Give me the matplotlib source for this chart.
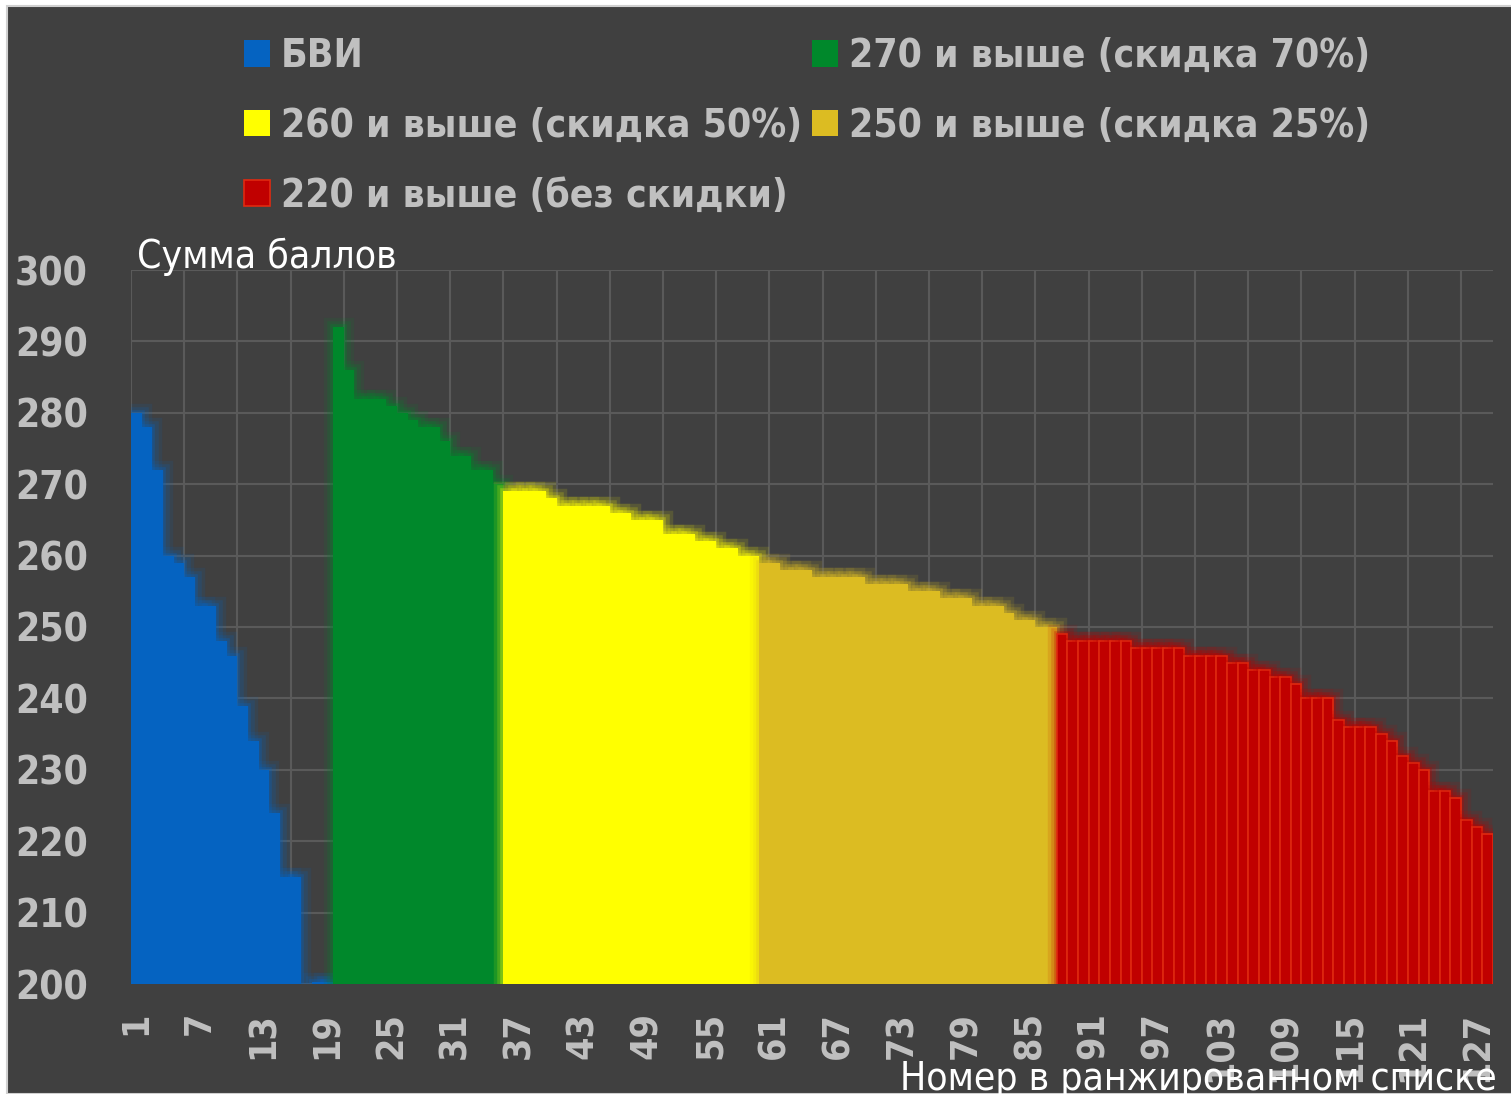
import matplotlib
matplotlib.use("Agg")
import matplotlib.pyplot as plt
import matplotlib.patheffects as pe
from matplotlib import font_manager
from matplotlib.patches import Rectangle
import numpy as np

# scores, one list per group, in rank order
bvi_scores = [280, 278, 272, 260, 259, 257, 253, 253, 248, 246, 239, 234, 230, 224, 215, 215,
              None, 200.3, 200.3]
green_scores = [292, 286, 282, 282, 282, 281, 280, 279, 278, 278, 276, 274, 274, 272, 272, 270]
yellow_scores = [269, 269, 269, 269, 268, 267, 267, 267, 267, 267, 266, 266, 265, 265, 265,
                 263, 263, 263, 262, 262, 261, 261, 260, 260]
gold_scores = [259, 259, 258, 258, 258, 257, 257, 257, 257, 257, 256, 256, 256, 256, 255, 255,
               255, 254, 254, 254, 253, 253, 253, 252, 251, 251, 250, 250]
red_scores = [249, 248, 248, 248, 248, 248, 248, 247, 247, 247, 247, 247, 246, 246, 246, 246,
              245, 245, 244, 244, 243, 243, 242, 240, 240, 240, 237, 236, 236, 236, 235, 234,
              232, 231, 230, 227, 227, 226, 223, 222, 221]

labels = ["БВИ", "270 и выше (скидка 70%)", "260 и выше (скидка 50%)",
          "250 и выше (скидка 25%)", "220 и выше (без скидки)"]
colors = ["#0563C1", "#00882B", "#FFFF00", "#DCBC22", "#C00000"]
groups = [bvi_scores, green_scores, yellow_scores, gold_scores, red_scores]

tick_pos = list(range(1, 128, 6))
yticks = list(range(200, 301, 10))

# look for a narrow face (the original uses Arial Narrow)
narrow = None
for f in font_manager.fontManager.ttflist:
    if "Liberation Sans Narrow" in f.name:
        narrow = f
        break
if narrow is None:
    for f in font_manager.fontManager.ttflist:
        if "Narrow" in f.name or "Condensed" in f.name or f.stretch in ("condensed", "semi-condensed"):
            narrow = f
            break
if narrow is not None:
    plt.rcParams["font.family"] = [narrow.name, "DejaVu Sans"]
    plt.rcParams["font.stretch"] = narrow.stretch
    fs = 33 if "Liberation" in narrow.name else 28
else:
    plt.rcParams["font.family"] = ["Liberation Sans", "DejaVu Sans"]
    fs = 28

bg = "#404040"
tick_col = "#C0C0C0"
grid_col = "#5A5A5A"

fig = plt.figure(figsize=(15.11, 10.94), dpi=100, facecolor="white")
fig.patches.append(Rectangle((7 / 1511, 0), 1, (1094 - 6) / 1094, transform=fig.transFigure,
                             facecolor=bg, edgecolor="#D0D0D0", linewidth=1.5, zorder=-10))

ax = fig.add_axes([131 / 1511, (1094 - 984) / 1094, (1493 - 131) / 1511, (984 - 270) / 1094])
ax.set_facecolor(bg)

handles = []
start = 1
for vals, col, lab in zip(groups, colors, labels):
    x = np.arange(start, start + len(vals))
    v = np.array([np.nan if s is None else s for s in vals], dtype=float)
    glow = [pe.Stroke(linewidth=14, foreground=col, alpha=0.12),
            pe.Stroke(linewidth=9, foreground=col, alpha=0.18),
            pe.Stroke(linewidth=4, foreground=col, alpha=0.3),
            pe.Normal()]
    if col == "#C00000":
        bars = ax.bar(x, v, width=1.0, color=col, edgecolor="#E02A10", linewidth=1.2)
        handles.append(Rectangle((0, 0), 1, 1, facecolor=col, edgecolor="#E02A10", linewidth=1.2))
    else:
        bars = ax.bar(x, v, width=1.0, color=col, linewidth=0)
        handles.append(Rectangle((0, 0), 1, 1, facecolor=col, linewidth=0))
    for b in bars:
        b.set_path_effects(glow)
    start += len(vals)

ax.set_xlim(0.5, 128.5)
ax.set_ylim(200, 300)
ax.set_yticks(yticks)
ax.set_xticks(tick_pos)
ax.set_xticks(np.arange(0.5, 129, 5), minor=True)
ax.tick_params(axis="both", which="both", length=0)
ax.tick_params(axis="y", pad=31, labelsize=fs, labelcolor=tick_col)
ax.tick_params(axis="x", pad=20, labelsize=fs - 1, labelcolor=tick_col, labelrotation=90)
for t in ax.get_xticklabels() + ax.get_yticklabels():
    t.set_fontweight("bold")
ax.grid(axis="y", color=grid_col, linewidth=1.5)
ax.grid(axis="x", which="minor", color=grid_col, linewidth=1.5)
ax.set_axisbelow(True)
for s in ax.spines.values():
    s.set_visible(False)

order = [0, 2, 4, 1, 3]
leg = fig.legend([handles[i] for i in order], [labels[i] for i in order], ncol=2,
                 loc="upper left", bbox_to_anchor=(244 / 1511, 1 - 37 / 1094), frameon=False,
                 prop={"size": fs, "weight": "bold"}, handlelength=0.67, handleheight=0.67,
                 handletextpad=0.28, columnspacing=0.25, labelspacing=0.82, borderpad=0,
                 borderaxespad=0)
for t in leg.get_texts():
    t.set_color(tick_col)

fig.text(137 / 1511, (1094 - 268) / 1094, "Сумма баллов", color="white", fontsize=fs,
         ha="left", va="baseline")
fig.text(1497 / 1511, (1094 - 1090) / 1094, "Номер в ранжированном списке", color="white",
         fontsize=fs, ha="right", va="baseline")

fig.savefig("out.png", dpi=100, facecolor="white")
